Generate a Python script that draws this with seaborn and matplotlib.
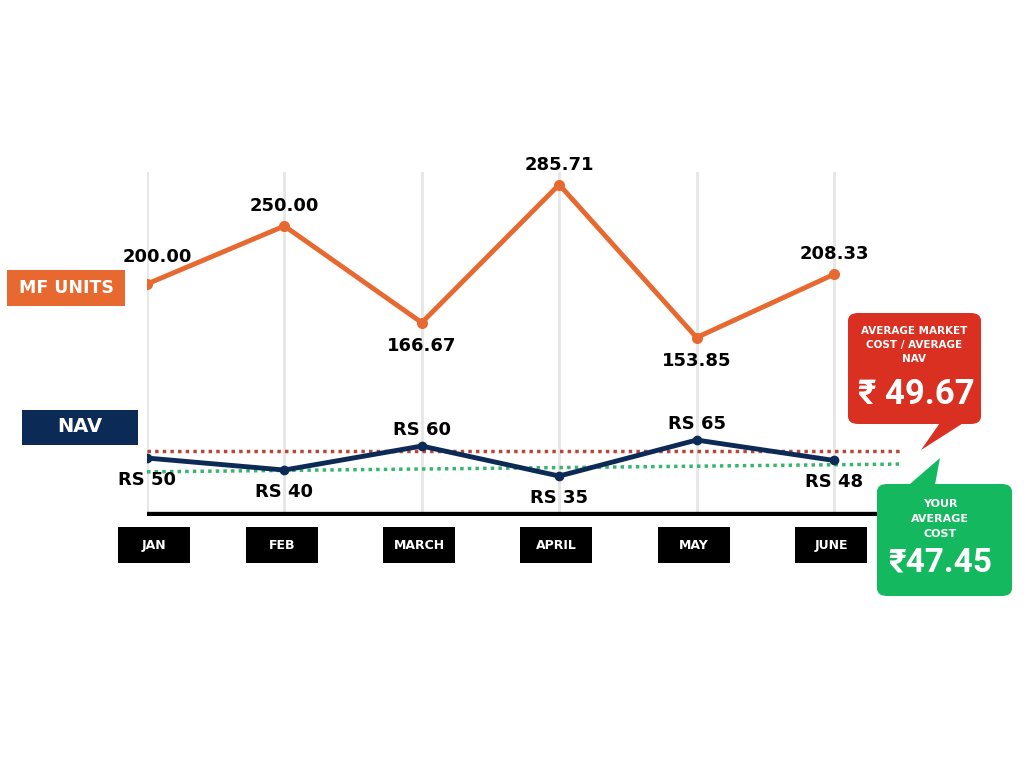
import pandas as pd
import seaborn as sns
import matplotlib.pyplot as plt
import matplotlib.transforms as mtransforms
from matplotlib.patches import Rectangle, FancyBboxPatch, Polygon

# Data
months = ["JAN", "FEB", "MARCH", "APRIL", "MAY", "JUNE"]
mf_units = [200.00, 250.00, 166.67, 285.71, 153.85, 208.33]
nav = [50, 40, 60, 35, 65, 48]
mf_label_pos = ["above", "above", "below", "above", "below", "above"]
nav_label_pos = ["below", "below", "above", "below", "above", "below"]
avg_market_cost = 49.67
your_avg_cost = 47.45
# levels of the dotted guide lines on the NAV scale (start, end)
market_line = [56.0, 56.0]
cost_line = [38.5, 45.0]

df = pd.DataFrame({"month": range(len(months)), "mf": mf_units, "nav": nav})

ORANGE = "#E8692F"
NAVY = "#0C2A56"
RED = "#DA3022"
GREEN = "#14B95F"
BIG_FONT = ["Roboto", "DejaVu Sans"]

sns.set_style("white")
plt.rcParams["font.family"] = ["DejaVu Sans"]

fig = plt.figure(figsize=(10.24, 7.68), dpi=100)
ax = fig.add_axes([147 / 1024, 1 - 516 / 768, 733 / 1024, 344 / 768])
ax2 = ax.twinx()


def px(x, y):
    # pixel position from top-left -> figure fraction
    return (x / 1024, 1 - y / 768)


# vertical grid lines
for i in df["month"]:
    ax.axvline(i, color="#e6e6e6", lw=2, zorder=0)

sns.lineplot(data=df, x="month", y="mf", ax=ax, color=ORANGE, lw=3.5,
             marker="o", markersize=8, markeredgewidth=0, zorder=3)
sns.lineplot(data=df, x="month", y="nav", ax=ax2, color=NAVY, lw=3.5,
             marker="o", markersize=7, markeredgewidth=0, zorder=3)

ax.set_xlim(0, 5.335)
ax.set_ylim(0, 344 / 1.16)
ax2.set_ylim(1.7, 344 / 1.2 + 1.7)

# dotted guide lines
xs = [0, 5.5]
ax2.plot(xs, market_line, color="#B8473A", lw=2.5, ls=(0, (1, 1.2)), zorder=2, clip_on=False)
ax2.plot(xs, cost_line, color="#35B56E", lw=2.5, ls=(0, (1, 1.2)), zorder=2, clip_on=False)

# value labels
for i, (v, pos) in enumerate(zip(mf_units, mf_label_pos)):
    dy = 20 if pos == "above" else -23
    dx = 0
    if i == 0:
        dx, dy = 10, 27
    ax.annotate(f"{v:.2f}", (i, v), xytext=(dx, dy), textcoords="offset pixels",
                ha="center", va="center", fontsize=13, fontweight="bold",
                color="black", zorder=5)
for i, (v, pos) in enumerate(zip(nav, nav_label_pos)):
    dy = 16 if pos == "above" else -22
    ax2.annotate(f"RS {v}", (i, v), xytext=(0, dy), textcoords="offset pixels",
                 ha="center", va="center", fontsize=13, fontweight="bold",
                 color="black", zorder=5)

# baseline
ax.axhline(0, xmin=0, xmax=1, color="black", lw=6, zorder=4)

for a in (ax, ax2):
    a.set_axis_off()

# month boxes
trans = mtransforms.blended_transform_factory(ax.transData, ax.transAxes)
for i, m in enumerate(months):
    cx = i + (0.05 if i == 0 else -0.02)
    ax.add_patch(Rectangle((cx - 0.262, -0.137), 0.524, 0.105, transform=trans,
                           facecolor="black", edgecolor="none", clip_on=False))
    ax.text(cx, -0.0845, m, transform=trans, ha="center", va="center",
            color="white", fontsize=9, fontweight="bold")

# series labels on the left
fig.add_artist(Rectangle(px(7, 306), 118 / 1024, 36 / 768, transform=fig.transFigure,
                         facecolor=ORANGE, edgecolor="none"))
fig.text(*px(66, 288), "MF UNITS", ha="center", va="center", color="white",
         fontsize=12.5, fontweight="bold")
fig.add_artist(Rectangle(px(22, 445), 116 / 1024, 35 / 768, transform=fig.transFigure,
                         facecolor=NAVY, edgecolor="none"))
fig.text(*px(80, 427), "NAV", ha="center", va="center", color="white",
         fontsize=14, fontweight="bold")

# red callout
fig.add_artist(Polygon([px(942, 420), px(968, 420), px(921, 450)], closed=True,
                       transform=fig.transFigure, facecolor=RED, edgecolor="none"))
fig.add_artist(FancyBboxPatch(px(848, 424), 133 / 1024, 111 / 768,
                              boxstyle="round,pad=0,rounding_size=0.01",
                              transform=fig.transFigure, facecolor=RED, edgecolor="none"))
fig.text(*px(914, 345), "AVERAGE MARKET\nCOST / AVERAGE\nNAV", ha="center", va="center",
         color="white", fontsize=7.5, fontweight="bold", linespacing=1.5)
fig.text(*px(916, 394), f"₹ {avg_market_cost:.2f}", ha="center", va="center",
         color="white", fontsize=25, fontweight="bold", family=BIG_FONT)

# green callout
fig.add_artist(Polygon([px(903, 490), px(934, 490), px(940, 458)], closed=True,
                       transform=fig.transFigure, facecolor=GREEN, edgecolor="none"))
fig.add_artist(FancyBboxPatch(px(877, 596), 135 / 1024, 112 / 768,
                              boxstyle="round,pad=0,rounding_size=0.01",
                              transform=fig.transFigure, facecolor=GREEN, edgecolor="none"))
fig.text(*px(940, 519), "YOUR\nAVERAGE\nCOST", ha="center", va="center",
         color="white", fontsize=8, fontweight="bold", linespacing=1.6)
fig.text(*px(940, 562), f"₹{your_avg_cost:.2f}", ha="center", va="center",
         color="white", fontsize=24, fontweight="bold", family=BIG_FONT)

fig.savefig("out.png", dpi=100)
